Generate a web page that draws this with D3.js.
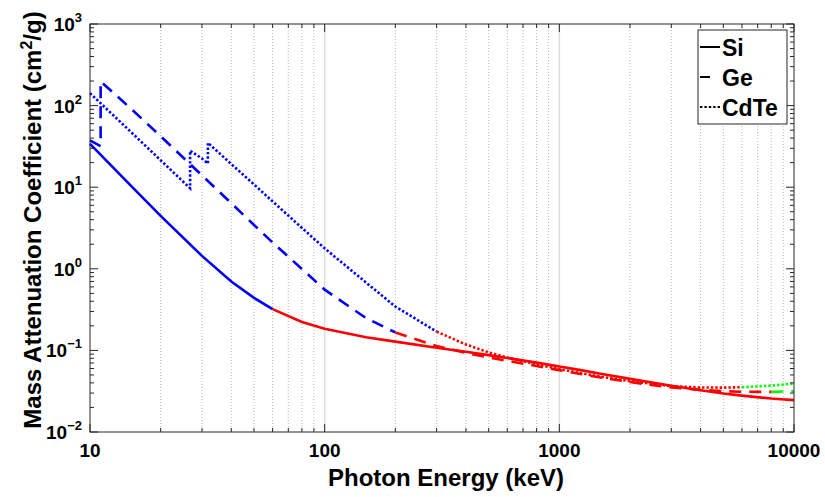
<!DOCTYPE html>
<html>
<head>
<meta charset="utf-8">
<script src="https://cdn.jsdelivr.net/npm/d3@7"></script>
<style>
  body { margin: 0; background: #fff; }
  text { font-family: "Liberation Sans", Helvetica, Arial, sans-serif; font-weight: bold; fill: #000; }
</style>
</head>
<body>
<svg id="chart" width="825" height="497"></svg>
<script>
// photon energies (keV) and mass attenuation (cm^2/g)
var siEnergy = [10, 15, 20, 30, 40, 50, 60, 80, 100, 150, 200, 300, 400, 500, 600, 800,
                1000, 1250, 1500, 2000, 3000, 4000, 5000, 6000, 8000, 10000];
var siMu = [33.9, 10.3, 4.46, 1.44, 0.70, 0.44, 0.321, 0.223, 0.184, 0.145, 0.128, 0.108,
            0.0961, 0.0875, 0.0808, 0.0708, 0.0636, 0.0569, 0.0518, 0.0448, 0.0368, 0.0324,
            0.0297, 0.0279, 0.0257, 0.0246];

var geEnergy = [10, 11.1, 11.1, 15, 20, 30, 40, 50, 60, 80, 100, 150, 200, 300, 400, 500, 600, 800,
                1000, 1250, 1500, 2000, 3000, 4000, 5000, 6000, 8000, 10000];
var geMu = [37.4, 31.8, 198, 90.9, 42.2, 14.0, 6.36, 3.44, 2.10, 0.996, 0.555, 0.249, 0.166,
            0.113, 0.0933, 0.0821, 0.0745, 0.0643, 0.0573, 0.0510, 0.0466, 0.0409, 0.0352,
            0.0328, 0.0316, 0.0311, 0.0310, 0.0316];

var cdteEnergy = [10, 15, 20, 26.7, 26.7, 30, 31.8, 31.8, 40, 50, 60, 80, 100, 150, 200, 300, 400,
                  500, 600, 800, 1000, 1250, 1500, 2000, 3000, 4000, 5000, 6000, 8000, 10000];
var cdteMu = [142, 47, 21.4, 9.7, 28, 22.5, 19.5, 35, 19.2, 10.8, 6.7, 3.17, 1.78, 0.68, 0.345,
              0.17, 0.118, 0.0945, 0.082, 0.0675, 0.059, 0.0522, 0.0476, 0.042, 0.0365, 0.0351,
              0.035, 0.0354, 0.037, 0.0392];

// energies where the dominant process changes (photo -> compton -> pair)
var siBreaks = [60];
var geBreaks = [200, 8000];
var cdteBreaks = [300, 6000];
var phaseColours = ["#0000ff", "#ff0000", "#00ff00"];

var xMajor = [10, 100, 1000, 10000];
var yMajor = [1e-2, 1e-1, 1, 10, 100, 1000];
var yExp = [-2, -1, 0, 1, 2, 3];
var legendNames = ["Si", "Ge", "CdTe"];

var margin = {left: 90, right: 31, top: 24, bottom: 65};
var W = 825, H = 497;
var svg = d3.select("#chart");

var x = d3.scaleLog().domain([10, 10000]).range([margin.left, W - margin.right]);
var y = d3.scaleLog().domain([1e-2, 1e3]).range([H - margin.bottom, margin.top]);

function minors(lo, hi){
    var out = [];
    for (var d = lo; d < hi; d *= 10)
	for (var k = 2; k <= 9; k++) out.push(d * k);
    return out;
}
var xMinor = minors(10, 10000);
var yMinor = minors(1e-2, 1e3);

// grid (x only)
var grid = svg.append("g");
grid.selectAll(".gminor").data(xMinor).enter().append("line")
    .attr("x1", x).attr("x2", x)
    .attr("y1", y(1e3)).attr("y2", y(1e-2))
    .attr("stroke", "#b8b8b8").attr("stroke-width", 1)
    .attr("stroke-dasharray", "1,2");
grid.selectAll(".gmajor").data([100, 1000]).enter().append("line")
    .attr("x1", x).attr("x2", x)
    .attr("y1", y(1e3)).attr("y2", y(1e-2))
    .attr("stroke", "#dcdcdc").attr("stroke-width", 1.5);

// curves
var line = d3.line().x(function(d){ return x(d[0]); }).y(function(d){ return y(d[1]); });

function segments(E, mu, breaks){
    var segs = [], cur = [], phase = 0;
    for (var i = 0; i < E.length; i++){
	cur.push([E[i], mu[i]]);
	if (phase < breaks.length && E[i] === breaks[phase]){
	    segs.push({pts: cur, phase: phase});
	    cur = [[E[i], mu[i]]];
	    phase++;
	}
    }
    segs.push({pts: cur, phase: phase});
    return segs;
}

var materials = [
    {E: siEnergy, mu: siMu, breaks: siBreaks, dash: null},
    {E: geEnergy, mu: geMu, breaks: geBreaks, dash: "12,8"},
    {E: cdteEnergy, mu: cdteMu, breaks: cdteBreaks, dash: "2.4,2"}
];

var curves = svg.append("g");
materials.forEach(function(m){
    segments(m.E, m.mu, m.breaks).forEach(function(s){
	curves.append("path")
	    .attr("d", line(s.pts))
	    .attr("fill", "none")
	    .attr("stroke", phaseColours[s.phase])
	    .attr("stroke-width", 2.6)
	    .attr("stroke-dasharray", m.dash);
    });
});

// frame
var axisCol = "#262626";
svg.append("rect")
    .attr("x", x(10)).attr("y", y(1e3))
    .attr("width", x(10000) - x(10)).attr("height", y(1e-2) - y(1e3))
    .attr("fill", "none").attr("stroke", axisCol).attr("stroke-width", 1);

// ticks on all four sides, pointing inward
function ticks(vals, len, horizontal){
    var g = svg.append("g").attr("stroke", axisCol).attr("stroke-width", 1);
    vals.forEach(function(v){
	if (horizontal){
	    var px = x(v);
	    g.append("line").attr("x1", px).attr("x2", px).attr("y1", y(1e-2)).attr("y2", y(1e-2) - len);
	    g.append("line").attr("x1", px).attr("x2", px).attr("y1", y(1e3)).attr("y2", y(1e3) + len);
	} else {
	    var py = y(v);
	    g.append("line").attr("x1", x(10)).attr("x2", x(10) + len).attr("y1", py).attr("y2", py);
	    g.append("line").attr("x1", x(10000)).attr("x2", x(10000) - len).attr("y1", py).attr("y2", py);
	}
    });
}
ticks(xMajor, 8, true);
ticks(xMinor, 4, true);
ticks(yMajor, 8, false);
ticks(yMinor, 4, false);

// x tick labels
svg.append("g").selectAll("text").data(xMajor).enter().append("text")
    .attr("x", x).attr("y", y(1e-2) + 25)
    .attr("text-anchor", "middle").attr("font-size", 19)
    .text(function(d){ return d; });

// y tick labels 10^n
var ylab = svg.append("g").selectAll("text").data(yMajor).enter().append("text")
    .attr("x", x(10) - 8).attr("y", function(d){ return y(d) + 7; })
    .attr("text-anchor", "end").attr("font-size", 19);
ylab.append("tspan").text("10");
ylab.append("tspan").attr("dy", -9).attr("font-size", 13)
    .text(function(d, i){ return String(yExp[i]).replace("-", "\u2212"); });

// axis titles
svg.append("text")
    .attr("x", (x(10) + x(10000)) / 2 + 4).attr("y", H - 11)
    .attr("text-anchor", "middle").attr("font-size", 24)
    .text("Photon Energy (keV)");

var yt = svg.append("text")
    .attr("transform", "translate(41,220) rotate(-90)")
    .attr("text-anchor", "middle").attr("font-size", 24);
yt.append("tspan").text("Mass Attenuation Coefficient (cm");
yt.append("tspan").attr("dy", -9).attr("font-size", 16).text("2");
yt.append("tspan").attr("dy", 9).text("/g)");

// legend
var lg = svg.append("g").attr("transform", "translate(698,30)");
lg.append("rect").attr("width", 89).attr("height", 94)
    .attr("fill", "#fff").attr("stroke", axisCol).attr("stroke-width", 1);
var legendDash = [null, "10,8", "2.4,2"];
legendNames.forEach(function(name, i){
    var cy = 17 + i * 30;
    lg.append("line")
	.attr("x1", 2).attr("x2", i == 1 ? 12 : 22)
	.attr("y1", cy).attr("y2", cy)
	.attr("stroke", "#000").attr("stroke-width", 2)
	.attr("stroke-dasharray", legendDash[i]);
    lg.append("text").attr("x", 24).attr("y", cy + 9)
	.attr("font-size", 23).text(name);
});
</script>
</body>
</html>
